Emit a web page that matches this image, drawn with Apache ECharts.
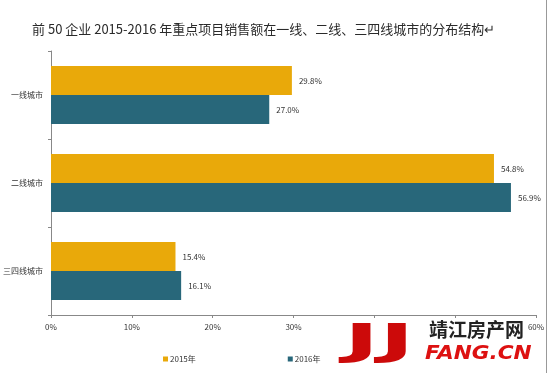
<!DOCTYPE html>
<html>
<head>
<meta charset="utf-8">
<script src="https://cdn.jsdelivr.net/npm/echarts@6/dist/echarts.min.js"></script>
<style>html,body{margin:0;padding:0;background:#fff}#c{width:550px;height:373px}</style>
</head>
<body>
<div id="c"></div>
<script>
var categories = ['一线城市', '二线城市', '三四线城市'];
var seriesNames = ['2015年', '2016年'];
var values2015 = [29.8, 54.8, 15.4];
var values2016 = [27.0, 56.9, 16.1];
var xTicks = [0, 10, 20, 30, 40, 50, 60];
var titleText = '前 50 企业 2015-2016 年重点项目销售额在一线、二线、三四线城市的分布结构↵';

var font = '"Noto Sans CJK SC", "Noto Sans", sans-serif';
var chart = echarts.init(document.getElementById('c'));
var labelCfg = {
  show: true, position: 'right', distance: 7,
  fontSize: 8, color: '#333', fontFamily: font,
  formatter: function (p) { return p.value.toFixed(1) + '%'; }
};
chart.setOption({
  animation: false,
  backgroundColor: '#fff',
  title: {
    text: titleText, left: 27, top: 18,
    textStyle: { fontSize: 13, fontWeight: 'normal', color: '#2a2a2a', fontFamily: font }
  },
  legend: {
    data: seriesNames, left: 158, top: 350, itemWidth: 5, itemHeight: 5, itemGap: 92,
    icon: 'rect',
    textStyle: { fontSize: 8, color: '#333', fontFamily: font, padding: [0, 0, 0, -3] }
  },
  grid: { left: 51, right: 14, top: 51, bottom: 58, containLabel: false },
  xAxis: {
    type: 'value', min: xTicks[0], max: xTicks[xTicks.length - 1], interval: 10,
    axisLine: { show: true, lineStyle: { color: '#888', width: 1 } },
    axisTick: { show: true, length: 3, lineStyle: { color: '#888' } },
    splitLine: { show: false },
    axisLabel: { fontSize: 8, color: '#333', fontFamily: font, margin: 8, formatter: '{value}%' }
  },
  yAxis: {
    type: 'category', data: categories, inverse: true,
    axisLine: { show: true, lineStyle: { color: '#888', width: 1 } },
    axisTick: { show: true, length: 3, lineStyle: { color: '#888' } },
    axisLabel: { fontSize: 8, color: '#333', fontFamily: font, margin: 8 }
  },
  series: [
    { name: seriesNames[0], type: 'bar', data: values2015, barGap: '0%', barCategoryGap: '34%',
      itemStyle: { color: '#E9A90A' }, label: labelCfg },
    { name: seriesNames[1], type: 'bar', data: values2016, barGap: '0%', barCategoryGap: '34%',
      itemStyle: { color: '#28677A' }, label: labelCfg }
  ],
  graphic: [
    { type: 'line', shape: { x1: 546.5, y1: 0, x2: 546.5, y2: 373 }, style: { stroke: '#999', lineWidth: 1 }, z: 100 },
    { type: 'rect', shape: { x: 334, y: 319, width: 193, height: 48 }, style: { fill: '#fff' }, z: 100 },
    { type: 'text', x: 344, y: 322, scaleX: 2.25, z: 101,
      style: { text: 'JJ', fontSize: 42, fontWeight: 900, fontFamily: '"DejaVu Sans", sans-serif', fill: '#cc0a0a' } },
    { type: 'text', x: 429, y: 320, z: 101,
      style: { text: '靖江房产网', fontSize: 19, fontWeight: 'bold', fontFamily: font, fill: '#222' } },
    { type: 'text', x: 425, y: 344, scaleX: 1.08, z: 101,
      style: { text: 'FANG.CN', fontSize: 20, fontWeight: 'bold', fontStyle: 'italic', fontFamily: '"DejaVu Sans", sans-serif', fill: '#dd1111' } }
  ]
});
</script>
</body>
</html>
